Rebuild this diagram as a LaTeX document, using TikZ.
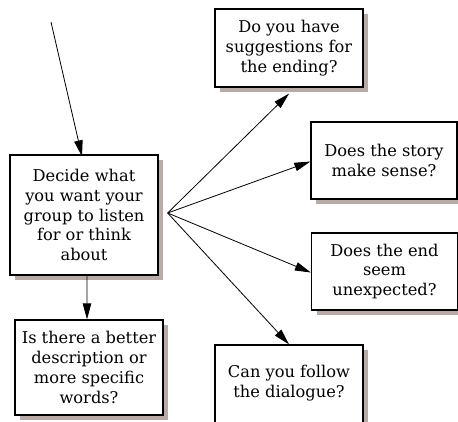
\documentclass[tikz,border=0pt]{standalone}
\usepackage{fontspec}
\setmainfont{DejaVu Serif}
\usetikzlibrary{arrows.meta,shadows}
\definecolor{shadowc}{HTML}{B8AAA6}
\begin{document}
\begin{tikzpicture}[x=1bp,y=-1bp,
  qbox/.style={draw=black, line width=1.3bp, fill=white, align=center,
    inner sep=0pt, font=\fontsize{16.3}{20}\selectfont,
    drop shadow={shadow xshift=5bp, shadow yshift=-5bp, fill=shadowc, opacity=1}},
  link/.style={line width=0.8bp, -{Triangle[length=16bp,width=8.5bp]}}]
\useasboundingbox (0,0) rectangle (458,421);

% question boxes
\node[qbox, minimum width=148bp, minimum height=120bp] (decide) at (84,215)
  {Decide what\\you want your\\group to listen\\for or think\\about};
\node[qbox, minimum width=148bp, minimum height=95bp] (better) at (89,367.5)
  {Is there a better\\description or\\more specific\\words?};
\node[qbox, minimum width=148bp, minimum height=78bp] (ending) at (289,48)
  {Do you have\\suggestions for\\the ending?};
\node[qbox, minimum width=146bp, minimum height=77bp] (story) at (384,160.5)
  {Does the story\\make sense?};
\node[qbox, minimum width=146bp, minimum height=77bp] (endq) at (384.5,271.5)
  {Does the end\\seem\\unexpected?};
\node[qbox, minimum width=148bp, minimum height=100bp, text depth=0pt] (follow) at (289,395)
  {};
\node[font=\fontsize{16.3}{20}\selectfont, align=center] (followtxt) at (289,383)
  {Can you follow\\the dialogue?};

% connectors
\coordinate (entry) at (51,22);
\coordinate (fan) at ([xshift=9bp,yshift=2bp]decide.east);
\draw[link] (entry) -- ([xshift=-2bp,yshift=-2bp]decide.north);
\draw[link] ([xshift=3bp]decide.south) -- ([xshift=-2bp]better.north);
\draw[link] (fan) -- ([yshift=-6bp]ending.south);
\draw[link] (fan) -- ([yshift=-1bp]story.west);
\draw[link] (fan) -- ([yshift=-1bp]endq.west);
\draw[link] (fan) -- (follow.north);
\end{tikzpicture}
\end{document}
